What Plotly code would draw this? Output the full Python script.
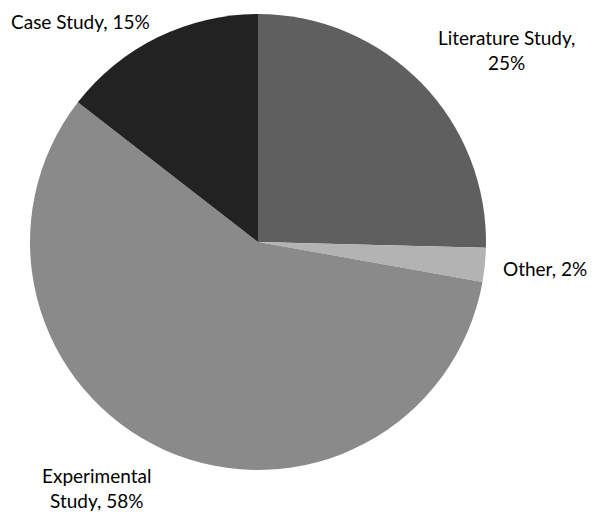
import plotly.graph_objects as go

# data
labels = ["Literature Study", "Other", "Experimental Study", "Case Study"]
values = [25.4, 2.4, 57.7, 14.5]
pct_text = ["25%", "2%", "58%", "15%"]
colors = ["#5f5f5f", "#b3b3b3", "#8a8a8a", "#222222"]

W, H = 596, 518
OFF = 8  # page body margin

def px_x(p):
    return (p - OFF) / W

def px_y(p):
    return 1 - (p - OFF) / H

fig = go.Figure()
fig.add_trace(go.Pie(
    labels=labels,
    values=values,
    sort=False,
    direction="clockwise",
    rotation=0,
    marker=dict(colors=colors, line=dict(width=0)),
    textinfo="none",
    hoverinfo="label+percent",
    showlegend=False,
    domain=dict(x=[px_x(30), px_x(486)], y=[px_y(470), px_y(14)]),
))

# label placement (pixels in the reference image), anchors
label_pos = [
    (506, 50, "center", "middle"),
    (545, 268, "center", "middle"),
    (96, 488, "center", "middle"),
    (9, 8, "left", "top"),
]
label_txt = [
    f"Literature Study,<br>{pct_text[0]}",
    f"{labels[1]}, {pct_text[1]}",
    f"Experimental<br>Study, {pct_text[2]}",
    f"{labels[3]}, {pct_text[3]}",
]
for (px, py, xa, ya), t in zip(label_pos, label_txt):
    fig.add_annotation(
        x=px_x(px), y=px_y(py), xref="paper", yref="paper",
        text=t, showarrow=False, align="center",
        xanchor=xa, yanchor=ya,
        font=dict(family="Lato, Liberation Sans, Arial", size=19, color="#000000"),
    )

fig.update_layout(
    width=W, height=H,
    margin=dict(l=0, r=0, t=0, b=0),
    paper_bgcolor="white",
    plot_bgcolor="white",
)

fig.write_html("out.html")
